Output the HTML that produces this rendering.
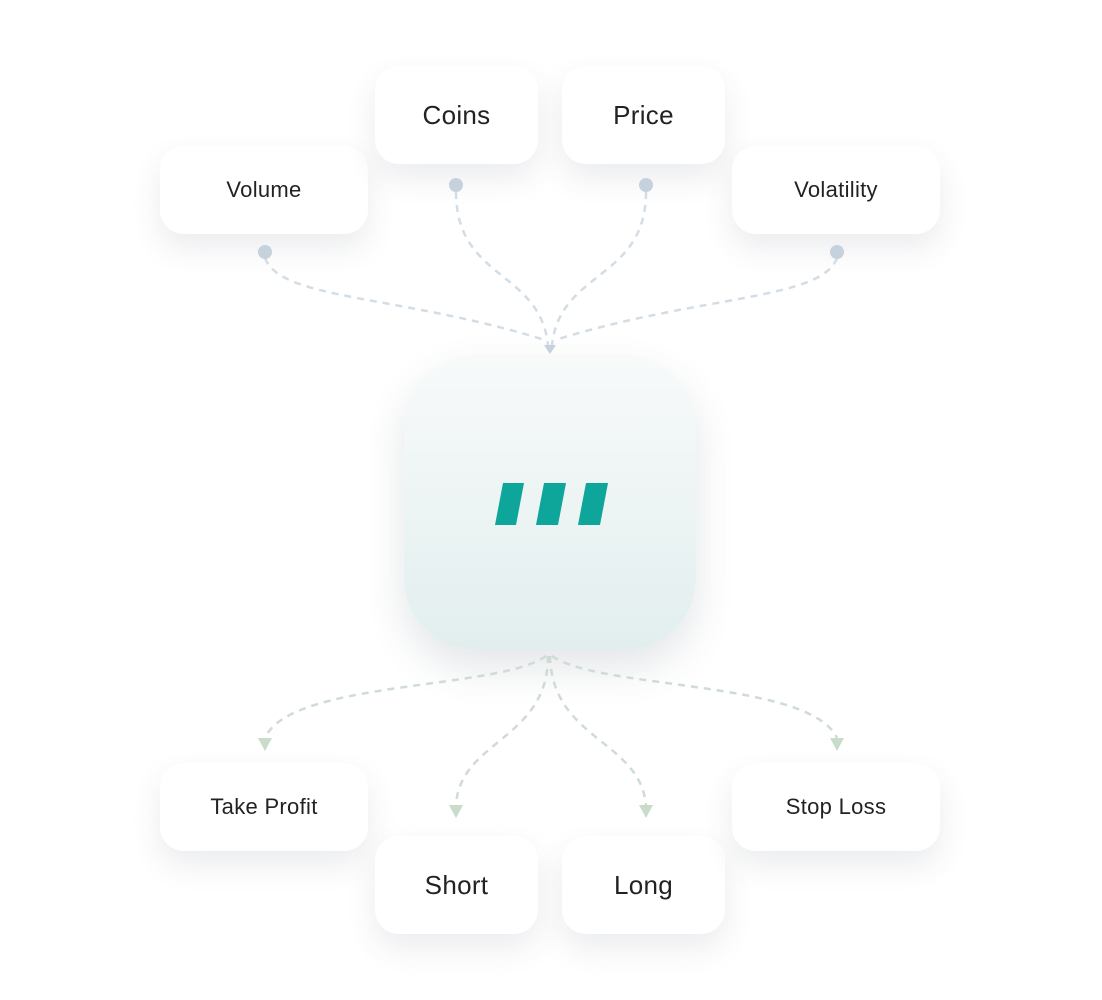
<!DOCTYPE html>
<html><head><meta charset="utf-8"><style>
body{margin:0;width:1102px;height:1000px;background:#fff;position:relative;overflow:hidden;font-family:"Liberation Sans",sans-serif}
.b{position:absolute;background:#fff;border-radius:24px;box-shadow:0 14px 30px rgba(60,70,90,0.10);display:flex;align-items:center;justify-content:center;color:#222;font-size:22px;letter-spacing:0.3px}
.l{font-size:26px}
.c{position:absolute;left:404px;top:355px;width:292px;height:295px;border-radius:72px;background:linear-gradient(#f8fafa,#e2eeee);box-shadow:0 18px 40px rgba(60,80,90,0.14)}
svg{position:absolute;left:0;top:0}
</style></head><body>
<div class="b" style="left:160px;top:146px;width:208px;height:88px">Volume</div>
<div class="b l" style="left:375px;top:66px;width:163px;height:98px">Coins</div>
<div class="b l" style="left:562px;top:66px;width:163px;height:98px">Price</div>
<div class="b" style="left:732px;top:146px;width:208px;height:88px">Volatility</div>
<div class="b" style="left:160px;top:763px;width:208px;height:88px">Take Profit</div>
<div class="b l" style="left:375px;top:836px;width:163px;height:98px">Short</div>
<div class="b l" style="left:562px;top:836px;width:163px;height:98px">Long</div>
<div class="b" style="left:732px;top:763px;width:208px;height:88px">Stop Loss</div>
<div class="c"></div>
<svg width="1102" height="1000">
<g fill="none" stroke="#d2dde6" stroke-width="2.5" stroke-dasharray="7 6">
<path d="M265 258 C280 300 400 295 545 340"/>
<path d="M456 192 C456 280 540 270 548 345"/>
<path d="M646 192 C646 280 560 270 552 345"/>
<path d="M837 258 C822 300 700 295 555 340"/>
</g>
<g fill="#c5d1dc">
<circle cx="265" cy="252" r="7"/><circle cx="456" cy="185" r="7"/><circle cx="646" cy="185" r="7"/><circle cx="837" cy="252" r="7"/>
<path d="M544 345 L556 345 L550 354 Z"/>
</g>
<g fill="none" stroke="#cfdcd6" stroke-width="2.5" stroke-dasharray="7 6">
<path d="M546 656 C500 690 290 680 265 738"/>
<path d="M548 656 C548 740 460 740 456 805"/>
<path d="M550 656 C552 740 640 740 646 805"/>
<path d="M552 656 C600 690 810 680 837 738"/>
</g>
<g fill="#c9dccb">
<path d="M258 738 L272 738 L265 751 Z"/><path d="M449 805 L463 805 L456 818 Z"/>
<path d="M639 805 L653 805 L646 818 Z"/><path d="M830 738 L844 738 L837 751 Z"/>
</g>
<g fill="#0ea59a">
<path d="M503 483 L524 483 L516 525 L495 525 Z"/>
<path d="M544 483 L566 483 L558 525 L536 525 Z"/>
<path d="M586 483 L608 483 L600 525 L578 525 Z"/>
</g>
</svg>
</body></html>
